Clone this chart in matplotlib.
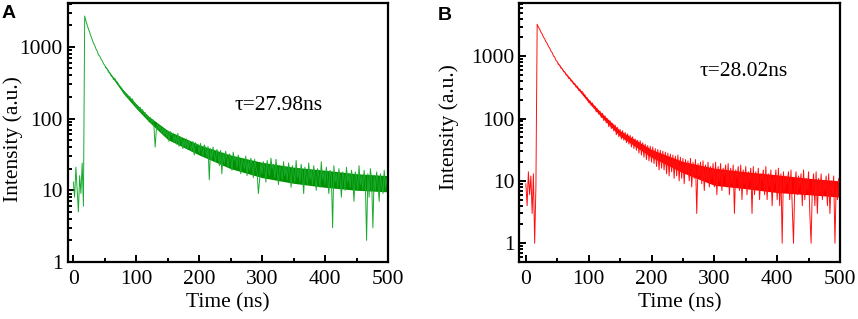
import numpy as np
import matplotlib
matplotlib.use('Agg')
import matplotlib.pyplot as plt
from matplotlib.ticker import MultipleLocator, LogLocator, NullFormatter

# time grid of the decay traces (ns)
time_ns = np.arange(0, 501, 2)

# panel A counts (0-16 ns is the pre-pulse baseline)
counts_a = [
    13, 8, 21, 10, 5, 16, 9, 24, 6,
    2690, 2290, 2010, 1765, 1590, 1395, 1262, 1118, 1041, 932,
    868, 772, 741, 671, 637, 579, 548, 503, 487, 441,
    431, 392, 383, 349, 362, 327, 322, 291, 279, 262,
    251, 226, 231, 205, 214, 190, 201, 179, 188, 158,
    164, 143, 151, 131, 144, 122, 133, 112, 121, 101,
    110, 91, 104, 86, 97, 79, 40, 73, 84, 70,
    79, 63, 74, 58, 71, 55, 68, 48, 66, 59,
    61, 47, 58, 44, 62, 41, 55, 52, 38, 53,
    40, 52, 37, 49, 44, 35, 48, 31, 46, 42,
    44, 33, 45, 36, 30, 43, 39, 29, 41, 14,
    38, 27, 40, 31, 25, 37, 34, 22, 36, 17,
    33, 24, 35, 28, 21, 32, 30, 19, 34, 26,
    29, 21, 31, 26, 17, 28, 24, 20, 30, 16,
    26, 19, 28, 23, 15, 27, 21, 18, 9, 14,
    24, 17, 25, 21, 13, 26, 19, 16, 28, 20,
    23, 15, 27, 18, 12, 22, 19, 14, 25, 16,
    21, 14, 24, 18, 11, 22, 17, 13, 26, 15,
    20, 13, 23, 17, 9, 21, 16, 12, 24, 14,
    19, 12, 22, 15, 10, 20, 16, 11, 25, 14,
    18, 12, 21, 15, 9, 19, 16, 3, 22, 13,
    17, 11, 20, 14, 8, 18, 15, 10, 21, 13,
    17, 11, 19, 14, 7, 18, 15, 10, 22, 12,
    16, 10, 19, 13, 2, 17, 8, 20, 14, 3,
    16, 10, 18, 13, 7, 17, 12, 9, 19, 11,
    15, 10,
]

# panel B counts
counts_b = [
    9, 4, 14, 6, 12, 3, 13, 1, 8,
    3260, 2935, 2718, 2432, 2268, 2031, 1894, 1703, 1597, 1436,
    1346, 1207, 1138, 1012, 966, 852, 817, 733, 716, 641,
    628, 566, 559, 497, 493, 441, 446, 397, 399, 356,
    361, 319, 328, 284, 296, 268, 271, 245, 240, 210,
    215, 181, 194, 162, 178, 148, 159, 128, 143, 117,
    131, 104, 121, 93, 110, 85, 99, 74, 92, 69,
    84, 63, 79, 55, 72, 51, 67, 47, 64, 45,
    60, 41, 57, 39, 54, 35, 51, 33, 47, 31,
    45, 28, 44, 26, 41, 24, 39, 22, 37, 21,
    36, 20, 35, 19, 33, 17, 32, 15, 31, 16,
    30, 15, 29, 13, 28, 12, 27, 14, 26, 11,
    25, 12, 26, 10, 24, 11, 23, 9, 22, 13,
    21, 10, 23, 8, 20, 11, 22, 3, 19, 12,
    20, 9, 21, 7, 18, 10, 20, 8, 17, 11,
    19, 8, 20, 6, 17, 10, 19, 7, 16, 12,
    18, 8, 19, 6, 16, 9, 18, 3, 15, 11,
    17, 7, 18, 5, 15, 9, 17, 6, 14, 10,
    16, 3, 17, 6, 14, 8, 16, 5, 13, 10,
    15, 6, 17, 5, 13, 8, 15, 4, 12, 9,
    15, 5, 16, 4, 13, 1, 14, 7, 12, 9,
    14, 5, 15, 4, 1, 8, 14, 6, 12, 8,
    13, 4, 15, 5, 11, 7, 14, 3, 1, 8,
    13, 4, 14, 3, 11, 6, 13, 5, 10, 7,
    12, 4, 13, 3, 10, 6, 12, 1, 9, 5,
    11, 6,
]

# dense core of the noise band (where the trace fills solid)
core_t = [50, 60, 80, 100, 120, 150, 200, 250, 300, 350, 400, 450, 500]
core_a_lo = [535, 390, 220, 138, 90, 51, 31, 20, 15, 12.5, 11, 10, 9.5]
core_a_hi = [555, 415, 247, 160, 107, 68, 43, 31, 24.5, 21, 19, 17, 16]
core_b_lo = [785, 570, 318, 180, 107, 52, 24, 13.5, 8.5, 7.5, 6.5, 6, 5.5]
core_b_hi = [815, 595, 345, 202, 124, 64, 32, 20.5, 16, 14, 12.5, 11, 10]

plt.rcParams['font.family'] = ['Liberation Serif', 'DejaVu Serif']

fig = plt.figure(figsize=(8.58, 3.19), dpi=100)
ax1 = fig.add_axes([0.0789, 0.1787, 0.3733, 0.8119])
ax2 = fig.add_axes([0.6052, 0.1787, 0.3738, 0.8119])


def style_axis(ax, ylim, xlim, ylab_pos):
    ax.set_yscale('log')
    ax.set_xlim(*xlim)
    ax.set_ylim(*ylim)
    ax.set_yticks([1, 10, 100, 1000])
    ax.set_yticklabels(['1', '10', '100', '1000'])
    ax.yaxis.set_minor_locator(LogLocator(base=10, subs=range(2, 10), numticks=20))
    ax.yaxis.set_minor_formatter(NullFormatter())
    ax.set_xticks([0, 100, 200, 300, 400, 500])
    ax.xaxis.set_minor_locator(MultipleLocator(50))
    ax.tick_params(which='both', direction='in', top=False, right=False,
                   labelsize=15.5, width=1.4)
    ax.tick_params(axis='x', pad=6)
    ax.tick_params(which='major', length=5)
    ax.tick_params(which='minor', length=3)
    for s in ax.spines.values():
        s.set_linewidth(1.6)
        s.set_zorder(5)
    ax.set_xlabel('Time (ns)', fontsize=15.5, labelpad=3)
    ax.set_ylabel('Intensity (a.u.)', fontsize=15.5)
    ax.yaxis.label.set_verticalalignment('center')
    ax.yaxis.set_label_coords(*ylab_pos)


ax1.plot(time_ns, counts_a, color='#1aaa30', lw=0.7)
ax1.fill_between(core_t, core_a_lo, core_a_hi, color='#009100', lw=0)
style_axis(ax1, (1, 4080), (-9, 500), (-0.17, 0.474))
ax1.text(0.522, 0.605, 'τ=27.98ns', transform=ax1.transAxes,
         fontsize=15.5, ha='left', va='center')

ax2.plot(time_ns, counts_b, color='#ff1010', lw=0.7)
ax2.fill_between(core_t, core_b_lo, core_b_hi, color='#ff0000', lw=0)
style_axis(ax2, (0.5, 7150), (-10.5, 500), (-0.219, 0.522))
ax2.text(0.561, 0.734, 'τ=28.02ns', transform=ax2.transAxes,
         fontsize=15.5, ha='left', va='center')

fig.text(2 / 858, 1 - 14 / 319, 'A', fontsize=14, fontweight='bold',
         family='Liberation Sans', ha='left', va='center')
fig.text(438 / 858, 1 - 16 / 319, 'B', fontsize=14, fontweight='bold',
         family='Liberation Sans', ha='left', va='center')

fig.savefig('out.png', dpi=100)
